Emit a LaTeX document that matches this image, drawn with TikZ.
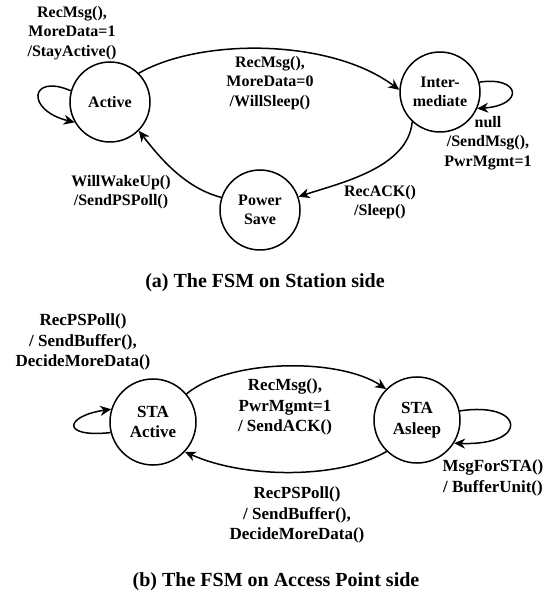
\documentclass[tikz,border=0pt]{standalone}
\usepackage{fontspec}
\setmainfont{Liberation Serif}
\usetikzlibrary{arrows.meta}
\begin{document}
\begin{tikzpicture}[x=1pt,y=1pt,
  state/.style={circle,draw,line width=1.5pt,minimum size=80pt,inner sep=0pt,align=center,font=\fontsize{16}{19.5}\selectfont\bfseries},
  stateb/.style={state,minimum size=86pt,font=\fontsize{17}{20.5}\selectfont\bfseries},
  lbl/.style={align=center,font=\fontsize{16}{19.5}\selectfont\bfseries,inner sep=0pt},
  lblb/.style={align=center,font=\fontsize{17}{20.5}\selectfont\bfseries,inner sep=0pt},
  captxt/.style={font=\fontsize{20}{24}\selectfont\bfseries,inner sep=0pt},
  conn/.style={line width=1.5pt,-{Stealth[length=11pt,width=10pt,inset=3.5pt]}}]
\useasboundingbox (0,0) rectangle (553,598);
% top panel
\node[state] (A) at (110,496) {Active};
\node[state] (I) at (440,506) {Inter-\\mediate};
\node[state] (P) at (260,388) {Power\\Save};
\node[lbl] (lA) at (72,565) {RecMsg(),\\MoreData=1\\/StayActive()};
\node[lbl] (lAI) at (270,515) {RecMsg(),\\MoreData=0\\/WillSleep()};
\node[lbl] (lI) at (488,455) {null\\/SendMsg(),\\PwrMgmt=1};
\node[lbl] (lPA) at (121,406) {WillWakeUp()\\/SendPSPoll()};
\node[lbl] (lIP) at (380,396) {RecACK()\\/Sleep()};
\node[captxt] (ca) at (265,315) {(a) The FSM on Station side};
\draw[conn] (A.164) .. controls (30,525) and (25,488) .. (A.210);
\draw[conn] (I.14) .. controls (520,522) and (525,493) .. (I.336);
\draw[conn] (A.45) .. controls (200,560) and (330,560) .. (I.177);
\draw[conn] (I.227) .. controls (408,430) and (340,415) .. (P.19);
\draw[conn] (P.162) .. controls (185,410) and (160,440) .. (A.315);
% bottom panel
\node[stateb] (SA) at (153,176) {STA\\Active};
\node[stateb] (SS) at (417,178) {STA\\Asleep};
\node[lblb] (lSA) at (83,256) {RecPSPoll()\\/ SendBuffer(),\\DecideMoreData()};
\node[lblb] (lAS) at (285,191) {RecMsg(),\\PwrMgmt=1\\/ SendACK()};
\node[lblb] (lSSA) at (297,83) {RecPSPoll()\\/ SendBuffer(),\\DecideMoreData()};
\node[lblb] (lSS) at (493,120) {MsgForSTA()\\/ BufferUnit()};
\node[captxt] (cb) at (276,16) {(b) The FSM on Access Point side};
\draw[conn] (SA.194) .. controls (60,160) and (65,182) .. (SA.163);
\draw[conn] (SS.12) .. controls (525,197) and (530,152) .. (SS.328);
\draw[conn] (SA.40) .. controls (230,240) and (340,240) .. (SS.135);
\draw[conn] (SS.226) .. controls (340,119) and (245,119) .. (SA.317);
\end{tikzpicture}
\end{document}
